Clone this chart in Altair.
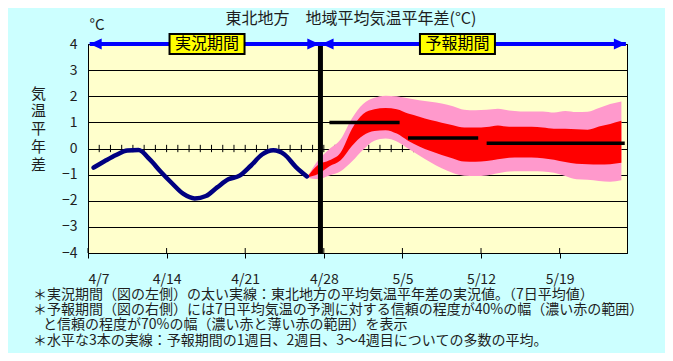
import altair as alt
import pandas as pd

FONT = "Noto Sans CJK JP"
TXT = "#1e1e1e"

# ---------------- data ----------------
# x = days after 4/7
tick_days = [0, 7, 14, 21, 28, 35, 42]
tick_labels = ["4/7", "4/14", "4/21", "4/28", "5/5", "5/12", "5/19"]
y_ticks = [-4, -3, -2, -1, 0, 1, 2, 3, 4]
minor_tick_days = list(range(1, 48))

obs_days = [0.5, 1.5, 2.5, 3.5, 4.5, 5.5, 6.5, 7.5, 8.5, 9.5,
            10.5, 11.5, 12.5, 13.5, 14.5, 15.5, 16.5, 17.5, 18.5, 19.5]
obs_vals = [-0.73, -0.48, -0.25, -0.08, -0.06, -0.42, -0.9, -1.34, -1.74, -1.91,
            -1.82, -1.49, -1.18, -1.04, -0.66, -0.23, -0.07, -0.23, -0.7, -1.07]

fc_days = [19.5, 20.5, 21.5, 22.5, 23.5, 24.5, 25.5, 26.5, 27.5, 28.5,
           29.5, 30.5, 31.5, 32.5, 33.5, 34.5, 35.5, 36.5, 37.5, 38.5,
           39.5, 40.5, 41.5, 42.5, 43.5, 44.5, 45.5, 46.5, 47.5]
pink_hi = [-1.1, -0.45, -0.02, 0.35, 1.15, 1.7, 1.94, 2.02, 2.0, 1.92,
           1.85, 1.79, 1.72, 1.62, 1.48, 1.46, 1.48, 1.52, 1.45, 1.42,
           1.42, 1.42, 1.38, 1.44, 1.40, 1.41, 1.55, 1.70, 1.80]
red_hi = [-1.1, -0.62, -0.45, -0.15, 0.75, 1.32, 1.5, 1.55, 1.5, 1.34,
          1.22, 1.09, 0.99, 0.89, 0.80, 0.80, 0.82, 0.88, 0.83, 0.83,
          0.83, 0.80, 0.76, 0.76, 0.74, 0.72, 0.84, 0.94, 1.06]
red_lo = [-1.1, -0.98, -0.68, -0.45, 0.1, 0.5, 0.67, 0.7, 0.57, 0.3,
          0.08, -0.1, -0.25, -0.38, -0.5, -0.51, -0.48, -0.41, -0.35, -0.34,
          -0.34, -0.37, -0.43, -0.52, -0.58, -0.60, -0.61, -0.60, -0.55]
pink_lo = [-1.12, -1.17, -1.03, -0.87, -0.5, -0.05, 0.3, 0.38, 0.27, 0.0,
           -0.27, -0.53, -0.76, -0.94, -1.04, -1.05, -1.03, -0.95, -0.88, -0.87,
           -0.87, -0.88, -0.93, -1.05, -1.18, -1.2, -1.24, -1.27, -1.22]

week_start = [21.5, 28.5, 35.5]
week_end = [27.75, 34.75, 47.8]
week_mean = [1.0, 0.4, 0.2]

split_day = 20.7
period_names = ["実況期間", "予報期間"]
period_center = [10.6, 32.9]
arrow_from = 0.15
arrow_to = 47.9

title_text = "東北地方　地域平均気温平年差(°C)"
y_title = ["気", "温", "平", "年", "差"]
notes = [
    "＊実況期間（図の左側）の太い実線：東北地方の平均気温平年差の実況値。（7日平均値）",
    "＊予報期間（図の右側）には7日平均気温の予測に対する信頼の程度が40%の幅（濃い赤の範囲）",
    "と信頼の程度が70%の幅（濃い赤と薄い赤の範囲）を表示",
    "＊水平な3本の実線：予報期間の1週目、2週目、3～4週目についての多数の平均。",
]

# ---------------- frames ----------------
obs_df = pd.DataFrame({"day": obs_days, "val": obs_vals})
fc_df = pd.DataFrame({"day": fc_days, "ph": pink_hi, "rh": red_hi, "rl": red_lo, "pl": pink_lo})
week_df = pd.DataFrame({"s": week_start, "e": week_end, "m": week_mean})
minor_df = pd.DataFrame({"day": minor_tick_days})
major_df = pd.DataFrame({"day": tick_days})
period_df = pd.DataFrame({"day": period_center, "name": period_names})
split_df = pd.DataFrame({"day": [split_day]})
arrow_df = pd.DataFrame({"a": [arrow_from], "b": [arrow_to]})
head_l_df = pd.DataFrame({"day": [arrow_from, split_day + 0.1]})
head_r_df = pd.DataFrame({"day": [split_day - 0.1, arrow_to]})

label_expr = "[" + ",".join("'%s'" % t for t in tick_labels) + "][datum.value / 7]"

xscale = alt.Scale(domain=[0, 48], nice=False, zero=False)
yscale = alt.Scale(domain=[-4, 4], nice=False, zero=False)

xaxis = alt.Axis(values=tick_days, labelExpr=label_expr, title=None, grid=False,
                 tickSize=5, tickColor="black", domainColor="black", labelOverlap=False,
                 labelFontSize=14, labelFont=FONT, labelColor=TXT, labelPadding=14)
yaxis = alt.Axis(values=y_ticks, grid=True, gridColor="black", labelOverlap=False,
                 gridOpacity=1, ticks=False, tickSize=0, domainColor="black",
                 labelFontSize=14, labelFont=FONT, labelColor=TXT, labelPadding=11,
                 title=y_title, titleAngle=0, titleAlign="center", titleBaseline="middle",
                 titleX=-50, titleY=49, titleFontSize=15, titleFont=FONT,
                 titleFontWeight="normal", titleColor=TXT, titleLineHeight=17.8)


def X(field):
    return alt.X(field, type="quantitative", scale=xscale, axis=xaxis)


def Y(field):
    return alt.Y(field, type="quantitative", scale=yscale, axis=yaxis)


def YD(v):
    return alt.YDatum(v, type="quantitative", scale=yscale, axis=yaxis)


def Y2D(v):
    return alt.Y2Datum(v)


minor_ticks = alt.Chart(minor_df).mark_rule(color="black", strokeWidth=1).encode(
    x=X("day"), y=YD(-0.14), y2=Y2D(0.14))

pink = alt.Chart(fc_df).mark_area(color="#FF99CC", opacity=1, interpolate="monotone").encode(
    x=X("day"), y=Y("pl"), y2="ph")
red = alt.Chart(fc_df).mark_area(color="#FF0000", opacity=1, interpolate="monotone").encode(
    x=X("day"), y=Y("rl"), y2="rh")

obs = alt.Chart(obs_df).mark_line(color="#000080", strokeWidth=4.5, interpolate="monotone",
                                  strokeCap="round").encode(x=X("day"), y=Y("val"))

weeks = alt.Chart(week_df).mark_rule(color="black", strokeWidth=3.5).encode(
    x=X("s"), x2="e", y=Y("m"))

split = alt.Chart(split_df).mark_rule(color="black", strokeWidth=5).encode(
    x=X("day"), y=YD(-4), y2=Y2D(4))

major_in = alt.Chart(major_df).mark_rule(color="black", strokeWidth=1).encode(
    x=X("day"), y=YD(-4), y2=Y2D(-3.81))

arrow_line = alt.Chart(arrow_df).mark_rule(color="#0000FF", strokeWidth=4).encode(
    x=X("a"), x2="b", y=YD(4))

LEFT_HEAD = "M0,0L2,-0.92L2,0.92Z"
RIGHT_HEAD = "M0,0L-2,-0.92L-2,0.92Z"
head_l = alt.Chart(head_l_df).mark_point(shape=LEFT_HEAD, size=144, filled=True,
                                         color="#0000FF", opacity=1).encode(
    x=X("day"), y=YD(4))
head_r = alt.Chart(head_r_df).mark_point(shape=RIGHT_HEAD, size=144, filled=True,
                                         color="#0000FF", opacity=1).encode(
    x=X("day"), y=YD(4))

BOX = "M-1,-0.267L1,-0.267L1,0.267L-1,0.267Z"
boxes = alt.Chart(period_df).mark_point(shape=BOX, size=5625, filled=True, fill="#FFFF00",
                                        stroke="black", strokeWidth=2, opacity=1).encode(
    x=X("day"), y=YD(4))
box_text = alt.Chart(period_df).mark_text(font=FONT, fontSize=16, color="black",
                                          baseline="middle", align="center").encode(
    x=X("day"), y=YD(4), text="name:N")

# text annotations (title, unit, notes), positioned in pixels relative to the plot area
title_mark = alt.Chart(split_df).mark_text(font=FONT, fontSize=16, color=TXT, align="center",
                                           baseline="middle").encode(
    x=alt.value(263), y=alt.value(-25), text=alt.value(title_text))

unit = alt.Chart(split_df).mark_text(font=FONT, fontSize=15, color=TXT, align="center",
                                     baseline="middle").encode(
    x=alt.value(9), y=alt.value(-19), text=alt.value("°C"))

note_x = [-55, -55, -45, -55]
note_y = [251, 266, 281, 297]
note_layers = [
    alt.Chart(split_df).mark_text(font=FONT, fontSize=14, color=TXT, align="left",
                                  baseline="middle").encode(
        x=alt.value(xx), y=alt.value(yy), text=alt.value(t))
    for t, xx, yy in zip(notes, note_x, note_y)
]

chart = alt.layer(
    minor_ticks, pink, red, obs, weeks, split, major_in,
    arrow_line, head_l, head_r, boxes, box_text, title_mark, unit, *note_layers
).properties(
    width=539, height=209,
    autosize=alt.AutoSizeParams(type="none"),
    padding={"left": 80, "top": 36, "right": 38, "bottom": 100},
).configure(
    background="#CCFFFF",
).configure_view(
    fill="#FFFFCC", stroke="black", strokeWidth=1
)

chart.save("out.html", embed_options={"renderer": "svg", "actions": False})
